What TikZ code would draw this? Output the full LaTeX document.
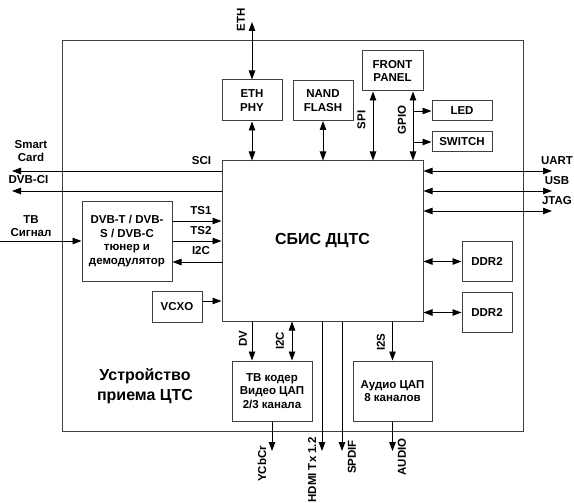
\documentclass[tikz,border=0pt]{standalone}
\usepackage{fontspec}
\setmainfont{Liberation Sans}
\usetikzlibrary{positioning, arrows.meta}
\definecolor{boxline}{RGB}{64,64,64}

\begin{document}
\begin{tikzpicture}[x=1pt, y=-1pt,
        node distance=10pt and 10pt,
        box/.style={draw=boxline, rectangle, line width=1pt, inner sep=0pt, align=center, font=\fontsize{11.5}{13.5}\selectfont\bfseries},
        lbl/.style={inner sep=0pt, align=center, font=\fontsize{11.5}{13.5}\selectfont\bfseries},
        vlbl/.style={lbl, rotate=90},
        big/.style={align=center, font=\fontsize{16}{20}\selectfont\bfseries},
        arr/.style={-{Triangle[length=9pt, width=6.5pt]}, line width=0.9pt},
        biarr/.style={{Triangle[length=9pt, width=6.5pt]}-{Triangle[length=9pt, width=6.5pt]}, line width=0.9pt}
    ]
    \useasboundingbox (0,0) rectangle (574,503);

    % Device frame
    \draw[boxline, line width=1pt] (62,41) rectangle (523,431);
    \node[big] (devname) at (145,386) {Устройство\\приема ЦТС};

    % Chip
    \node[box, big, minimum width=201pt, minimum height=160pt] (chip) at (322.5,241) {СБИС ДЦТС};

    % Top blocks
    \node[box, minimum width=60pt, minimum height=41pt] (ethphy) at (252,100.5) {ETH\\PHY};
    \node[box, minimum width=60pt, minimum height=40pt] (nand) [right=10pt of ethphy] {NAND\\FLASH};
    \node[box, minimum width=61pt, minimum height=40pt] (front) at (392.5,71) {FRONT\\PANEL};
    \node[box, minimum width=60pt, minimum height=20pt] (led) at (462,111) {LED};
    \node[box, minimum width=60pt, minimum height=20pt] (switch) [below=10pt of led] {SWITCH};

    % Left blocks
    \node[box, minimum width=90pt, minimum height=80pt] (tuner) at (127,241) {DVB-T / DVB-\\S / DVB-C\\тюнер и\\демодулятор};
    \node[box, minimum width=50pt, minimum height=31pt] (vcxo) at (177,307) {VCXO};

    % Bottom blocks
    \node[box, minimum width=80pt, minimum height=60pt] (tvenc) at (272,391) {ТВ кодер\\Видео ЦАП\\2/3 канала};
    \node[box, minimum width=79pt, minimum height=60pt] (dac) at (392.5,391) {Аудио ЦАП\\8 каналов};

    % Memory
    \node[box, minimum width=50pt, minimum height=40pt] (ddra) at (487,261.5) {DDR2};
    \node[box, minimum width=50pt, minimum height=40pt] (ddrb) [below=10pt of ddra] {DDR2};

    % Outside ends
    \coordinate (eth) at (252,22);
    \coordinate (sci) at (12,171);
    \coordinate (dvbci) at (12,191);
    \coordinate (tvin) at (0,241);
    \coordinate (uart) at (552,171);
    \coordinate (usb) at (552,191);
    \coordinate (jtag) at (552,211);
    \coordinate (ycbcr) at (272,451);
    \coordinate (hdmi) at (322,451);
    \coordinate (spdif) at (342,451);
    \coordinate (audio) at (392.5,451);
    \coordinate (spi) at ([xshift=-19.5pt]front.south);
    \coordinate (gpio) at ([xshift=20.5pt]front.south);

    % Top links
    \draw[biarr] (eth) -- (ethphy);
    \draw[biarr] (ethphy) -- (ethphy.south |- chip.north);
    \draw[biarr] (nand) -- (nand.south |- chip.north);
    \draw[biarr] (spi) -- (spi |- chip.north);
    \draw[biarr] (gpio) -- (gpio |- chip.north);
    \draw[arr] (gpio |- led.west) -- (led.west);
    \draw[arr] (gpio |- switch.west) -- (switch.west);
    \node[vlbl] (ethlbl) at (241,20) {ETH};
    \node[vlbl] (spilbl) at (361.5,120) {SPI};
    \node[vlbl] (gpiolbl) at (402,120) {GPIO};

    % Left links
    \draw[arr] (chip.west |- sci) -- (sci);
    \draw[arr] (chip.west |- dvbci) -- (dvbci);
    \draw[arr] (tvin) -- (tuner.west);
    \draw[arr] ([yshift=20pt]tuner.east) -- ([yshift=20pt]tuner.east -| chip.west);
    \draw[arr] (tuner.east) -- (tuner.east -| chip.west);
    \draw[arr] ([yshift=-21pt]tuner.east -| chip.west) -- ([yshift=-21pt]tuner.east);
    \draw[arr] ([yshift=6pt]vcxo.east) -- ([yshift=6pt]vcxo.east -| chip.west);
    \node[lbl] (cardlbl) at (31,151) {Smart\\Card};
    \node[lbl] (scilbl) at (201.5,160.5) {SCI};
    \node[lbl] (cilbl) at (28.5,180) {DVB-CI};
    \node[lbl] (tvlbl) at (31,226) {ТВ\\Сигнал};
    \node[lbl] (ts1lbl) at (201,211) {TS1};
    \node[lbl] (ts2lbl) at (201,231) {TS2};
    \node[lbl] (i2clbl) at (201,251) {I2C};

    % Right links
    \draw[biarr] (chip.east |- uart) -- (uart);
    \draw[biarr] (chip.east |- usb) -- (usb);
    \draw[biarr] (chip.east |- jtag) -- (jtag);
    \draw[biarr] (chip.east |- ddra.west) -- (ddra.west);
    \draw[biarr] (chip.east |- ddrb.west) -- (ddrb.west);
    \node[lbl] (uartlbl) at (557,161) {UART};
    \node[lbl] (usblbl) at (557,181) {USB};
    \node[lbl] (jtaglbl) at (557,201) {JTAG};

    % Bottom links
    \draw[arr] ([xshift=-20pt]tvenc.north |- chip.south) -- ([xshift=-20pt]tvenc.north);
    \draw[biarr] ([xshift=20pt]tvenc.north |- chip.south) -- ([xshift=20pt]tvenc.north);
    \draw[arr] (tvenc) -- (ycbcr);
    \draw[arr] (chip.south -| hdmi) -- (hdmi);
    \draw[arr] (chip.south -| spdif) -- (spdif);
    \draw[arr] (dac.north |- chip.south) -- (dac.north);
    \draw[arr] (dac) -- (audio);
    \node[vlbl] (dvlbl) at (243,339) {DV};
    \node[vlbl] (i2cblbl) at (280,341) {I2C};
    \node[vlbl] (i2slbl) at (381,342) {I2S};
    \node[vlbl] (ycbcrlbl) at (262,464) {YCbCr};
    \node[vlbl] (hdmilbl) at (312,470) {HDMI Tx 1.2};
    \node[vlbl] (spdiflbl) at (352,457) {SPDIF};
    \node[vlbl] (audiolbl) at (402,457) {AUDIO};

\end{tikzpicture}
\end{document}
